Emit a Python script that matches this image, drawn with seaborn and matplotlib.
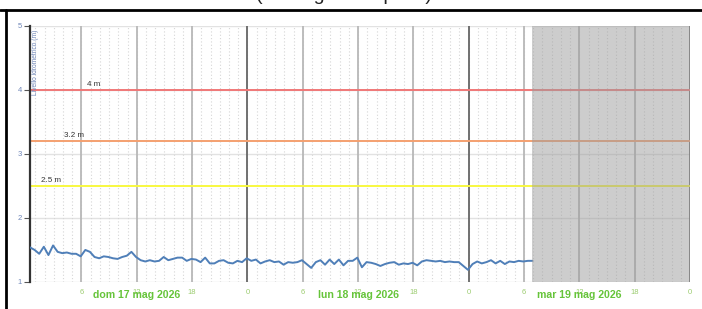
import pandas as pd
import matplotlib
matplotlib.use("Agg")
import matplotlib.pyplot as plt
import matplotlib.dates as mdates
from matplotlib.lines import Line2D
from matplotlib.transforms import blended_transform_factory
import seaborn as sns

# Livello idrometrico, un valore ogni 30 minuti dal 17/05 00:25
level = [1.54, 1.50, 1.44, 1.55, 1.42, 1.57, 1.47, 1.45, 1.46, 1.44,
         1.44, 1.40, 1.50, 1.47, 1.39, 1.37, 1.40, 1.39, 1.37, 1.36,
         1.39, 1.41, 1.47, 1.39, 1.34, 1.32, 1.34, 1.32, 1.33, 1.39,
         1.34, 1.36, 1.38, 1.38, 1.33, 1.36, 1.35, 1.31, 1.38, 1.29,
         1.29, 1.33, 1.34, 1.30, 1.29, 1.33,
         1.31, 1.37, 1.33, 1.35, 1.29, 1.32, 1.34, 1.31, 1.32, 1.27,
         1.31, 1.30, 1.31, 1.34, 1.28, 1.22, 1.31, 1.34, 1.27, 1.35,
         1.28, 1.35, 1.26, 1.33, 1.33, 1.38, 1.23, 1.31, 1.30, 1.28,
         1.25, 1.28, 1.30, 1.31, 1.27, 1.29, 1.28, 1.30, 1.26, 1.32,
         1.34, 1.33, 1.32, 1.33, 1.31, 1.32, 1.31, 1.31, 1.25, 1.19,
         1.28, 1.32, 1.29, 1.31, 1.34, 1.29, 1.33, 1.28, 1.32, 1.31,
         1.33, 1.32, 1.33, 1.33]
start = pd.Timestamp("2026-05-17 00:25")
end = pd.Timestamp("2026-05-20 00:00")
forecast_start = pd.Timestamp("2026-05-19 06:50")

# soglie
thresholds = [4.0, 3.2, 2.5]
threshold_labels = ["4 m", "3.2 m", "2.5 m"]
threshold_colors = ["#f07878", "#f4a070", "#f8f840"]

days = ["dom 17 mag 2026", "lun 18 mag 2026", "mar 19 mag 2026"]
day_dates = ["2026-05-17", "2026-05-18", "2026-05-19"]

times = pd.date_range(start, periods=len(level), freq="30min")
df = pd.DataFrame({"time": times, "level": level})

sns.set_style("white")
plt.rcParams["font.family"] = ["Liberation Sans", "DejaVu Sans"]

fig = plt.figure(figsize=(7.02, 3.09), dpi=100)
ax = fig.add_axes([30 / 702, 27 / 309, 660 / 702, 256.5 / 309])

# griglia
for y in [1, 2, 3, 4, 5]:
    ax.axhline(y, color="#e2e2e2", lw=1, zorder=0)
for h in pd.date_range("2026-05-17 01:00", end, freq="1h"):
    ax.axvline(h, color="#d6d6d6", lw=0.8, ls=(0, (1, 2)), zorder=0)
for h in pd.date_range("2026-05-17 06:00", end, freq="6h"):
    c = "#666666" if h.hour == 0 else "#b8b8b8"
    ax.axvline(h, color=c, lw=1.3, zorder=0.5)

# soglie
for y, lab, c, fx in zip(thresholds, threshold_labels, threshold_colors, [0.086, 0.0515, 0.0167]):
    ax.axhline(y, color=c, lw=1.4, zorder=1)
    ax.text(fx, y + 0.03, lab, transform=blended_transform_factory(ax.transAxes, ax.transData),
            fontsize=5.8, color="#333333", va="bottom", ha="left")

sns.lineplot(data=df, x="time", y="level", ax=ax, color="#4f7fb8", lw=1.4, zorder=3)

# previsione
ax.axvspan(forecast_start, end, color="#9c9c9c", alpha=0.5, lw=0, zorder=4)

ax.set_xlim(start, end)
ax.set_ylim(1, 5)
ax.set_yticks([1, 2, 3, 4, 5])
ax.set_xlabel("")
ax.set_ylabel("")
ax.xaxis.set_major_locator(mdates.HourLocator(byhour=[0, 6, 12, 18]))
ax.xaxis.set_major_formatter(plt.FuncFormatter(lambda v, p: str(mdates.num2date(v).hour)))
ax.tick_params(axis="x", length=3, color="#888888", labelsize=5.5, labelcolor="#9ccc70", pad=2)
ax.tick_params(axis="y", length=4, color="#555555", labelsize=5.5, labelcolor="#6f86b8", pad=2, left=True)

for s in ["top", "right", "bottom"]:
    ax.spines[s].set_visible(False)
ax.spines["left"].set_color("#333333")
ax.spines["left"].set_linewidth(1.6)

ax.text(0.009, 0.985, "Livello idrometrico (m)", transform=ax.transAxes, rotation=90,
        fontsize=4.8, color="#6f86b8", va="top", ha="center")

trans = blended_transform_factory(ax.transData, ax.transAxes)
for d, lab in zip(day_dates, days):
    ax.text(pd.Timestamp(d) + pd.Timedelta(hours=12), -0.05, lab, transform=trans,
            fontsize=7.6, fontweight="bold", color="#66c43a", ha="center", va="center")

# titolo tagliato e cornice
fig.text(0.49, 1.0, "(ultimi giorni e prev.)", fontsize=14, ha="center", va="baseline", color="#222222")
fig.add_artist(Line2D([0, 1], [1 - 10 / 309] * 2, color="black", lw=2))
fig.add_artist(Line2D([6 / 702] * 2, [0, 1 - 10 / 309], color="black", lw=2))

fig.savefig("out.png", dpi=100)
